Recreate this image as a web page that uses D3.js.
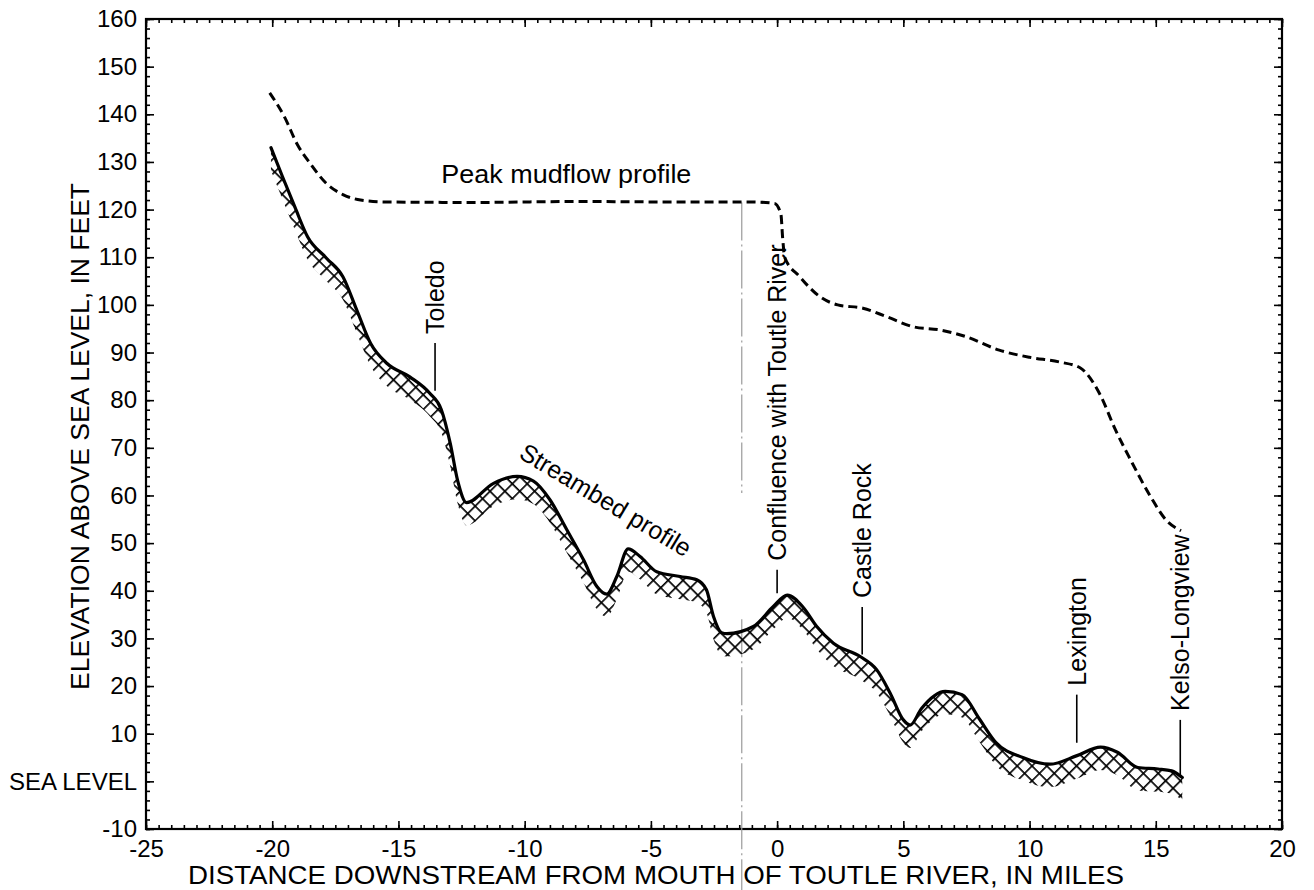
<!DOCTYPE html>
<html>
<head>
<meta charset="utf-8">
<script src="https://cdn.jsdelivr.net/npm/d3@7/dist/d3.min.js"></script>
<style>
  html, body { margin: 0; padding: 0; background: #fff; }
  svg { display: block; font-family: "Liberation Sans", Arial, Helvetica, sans-serif; }
</style>
</head>
<body>
<svg id="chart" width="1314" height="890"></svg>
<script>
// ---------- DATA ----------
// Streambed profile: [distance (mi), elevation (ft)]
const streambed = [
  [-20.05,133],[-19.6,127],[-19.1,120.5],[-18.6,114.3],[-17.85,109.8],[-17.2,105.9],
  [-16.65,98.9],[-16.1,91.9],[-15.45,87.7],[-14.55,84.9],[-13.75,81.4],[-13.3,78],
  [-12.95,71],[-12.65,63],[-12.3,58.5],[-11.25,62.5],[-10.3,64],[-9.65,63],[-9.0,59.1],
  [-8.33,52.8],[-7.67,46.5],[-7.14,40.9],[-6.75,39.3],[-6.35,43],[-5.9,48.8],[-5.43,47.2],
  [-4.77,44],[-3.84,43],[-3.18,42.3],[-2.8,40.2],[-2.52,34.6],[-2.2,31.2],[-1.99,31.0],
  [-0.94,32.5],[-0.15,36.7],[0.4,39.1],[1.04,36.5],[1.57,32.5],[2.23,29],[3.29,26.2],
  [3.95,23.4],[4.48,18.5],[5.0,12.9],[5.27,11.8],[5.72,15.3],[6.66,18.9],[7.33,18.2],
  [8.0,13.2],[8.66,8.2],[9.73,5.0],[10.8,3.6],[11.88,5.4],[12.81,7.2],[13.48,6.1],
  [14.29,2.9],[15.09,2.6],[15.63,2.2],[16.05,0.8]
];
// Peak mudflow profile: [distance (mi), elevation (ft)]
const mudflow = [
  [-20.1,144.5],[-19.5,139.3],[-19.0,133.6],[-18.5,129.7],[-17.84,125.4],[-17.18,123.1],
  [-16.5,122.0],[-15.5,121.6],[-12,121.5],[-8,121.7],[-4,121.6],[-1,121.6],[-0.1,121.3],
  [0.15,119],[0.22,114],[0.3,110],[0.9,105.9],[1.7,101.7],[2.4,100],[3.4,99.3],[4.35,97.5],
  [5.4,95.4],[6.5,94.7],[7.5,93.3],[8.8,90.5],[10,89],[11.2,88],[12,86.8],[12.8,81.1],
  [13.4,73.8],[14.0,67.5],[14.8,59.7],[15.4,54.9],[16.0,52.6]
];
// Place markers: name, distance, marker-line bottom/top elevation (ft)
const places = [
  {name: "Toledo", x: -13.55, lo: 82, hi: 92},
  {name: "Confluence with Toutle River", x: 0.0, lo: 39.5, hi: 44.4},
  {name: "Castle Rock", x: 3.37, lo: 26.6, hi: 36.6},
  {name: "Lexington", x: 11.87, lo: 8.1, hi: 18.2},
  {name: "Kelso-Longview", x: 15.97, lo: 0.9, hi: 12.9}
];
const confluenceLineX = -1.4;
const xTickValues = [-25,-20,-15,-10,-5,0,5,10,15,20];
const xTickLabels = ["-25","-20","-15","-10","-5","0","5","10","15","20"];
const yTickValues = [-10,0,10,20,30,40,50,60,70,80,90,100,110,120,130,140,150,160];
const yTickLabels = ["-10","SEA LEVEL","10","20","30","40","50","60","70","80","90","100","110","120","130","140","150","160"];
const xTitle = "DISTANCE DOWNSTREAM FROM MOUTH OF TOUTLE RIVER, IN MILES";
const yTitle = "ELEVATION ABOVE SEA LEVEL, IN FEET";

// ---------- LAYOUT ----------
const svg = d3.select("#chart");
const L = 146, R = 1282, T = 19, B = 829;
const x = d3.scaleLinear().domain([-25, 20]).range([L, R]);
const y = d3.scaleLinear().domain([-10, 160]).range([B, T]);
const FS = 24;

// hatch pattern
const defs = svg.append("defs");
const pat = defs.append("pattern").attr("id", "hatch")
  .attr("patternUnits", "userSpaceOnUse").attr("width", 10.5).attr("height", 10.5)
  .attr("patternTransform", "rotate(45)");
pat.append("path").attr("d", "M0,0.8H10.5M0.8,0V10.5").attr("stroke", "#000").attr("stroke-width", 1.7);

// axes ticks
const xMinor = d3.range(-25, 20.001, 0.5);
const yMinor = d3.range(-10, 160.001, 2);
function tickStyle(g) { g.select(".domain").remove(); g.selectAll(".tick line").attr("stroke", "#000").attr("stroke-width", 1.6); }

svg.append("g").attr("transform", `translate(0,${B})`)
  .call(d3.axisBottom(x).tickValues(xMinor).tickSize(-4).tickFormat(""))
  .call(tickStyle);
svg.append("g").attr("transform", `translate(0,${B})`)
  .call(d3.axisBottom(x).tickValues(xTickValues).tickSize(-8).tickPadding(11)
        .tickFormat((d, i) => xTickLabels[i]))
  .call(tickStyle)
  .call(g => g.selectAll("text").attr("font-size", FS).attr("fill", "#000").attr("font-family", null));
svg.append("g").attr("transform", `translate(0,${T})`)
  .call(d3.axisTop(x).tickValues(xMinor).tickSize(-4).tickFormat(""))
  .call(tickStyle);
svg.append("g").attr("transform", `translate(0,${T})`)
  .call(d3.axisTop(x).tickValues(xTickValues).tickSize(-8).tickFormat(""))
  .call(tickStyle);

svg.append("g").attr("transform", `translate(${L},0)`)
  .call(d3.axisLeft(y).tickValues(yMinor).tickSize(-4).tickFormat(""))
  .call(tickStyle);
svg.append("g").attr("transform", `translate(${L},0)`)
  .call(d3.axisLeft(y).tickValues(yTickValues).tickSize(-8).tickPadding(9)
        .tickFormat((d, i) => yTickLabels[i]))
  .call(tickStyle)
  .call(g => g.selectAll("text").attr("font-size", FS).attr("fill", "#000").attr("font-family", null));
svg.append("g").attr("transform", `translate(${R},0)`)
  .call(d3.axisRight(y).tickValues(yMinor).tickSize(-4).tickFormat(""))
  .call(tickStyle);
svg.append("g").attr("transform", `translate(${R},0)`)
  .call(d3.axisRight(y).tickValues(yTickValues).tickSize(-8).tickFormat(""))
  .call(tickStyle);

// frame
svg.append("rect").attr("x", L).attr("y", T).attr("width", R - L).attr("height", B - T)
  .attr("fill", "none").attr("stroke", "#000").attr("stroke-width", 2.2);

// confluence gray line
const gl = svg.append("g").attr("stroke", "#9a9a9a").attr("stroke-width", 1.2)
  .attr("stroke-dasharray", "38,4,2,4");
gl.append("line").attr("x1", x(confluenceLineX)).attr("x2", x(confluenceLineX))
  .attr("y1", y(121.5)).attr("y2", y(60.5));
gl.append("line").attr("x1", x(confluenceLineX)).attr("x2", x(confluenceLineX))
  .attr("y1", y(34)).attr("y2", 890);

// hatch band under streambed
const band = d3.area().curve(d3.curveMonotoneX)
  .x(d => x(d[0])).y1(d => y(d[1])).y0(d => y(d[1] - 4.8));
svg.append("path").datum(streambed).attr("d", band).attr("fill", "url(#hatch)");

// streambed line
const line = d3.line().curve(d3.curveMonotoneX).x(d => x(d[0])).y(d => y(d[1]));
svg.append("path").datum(streambed).attr("d", line)
  .attr("fill", "none").attr("stroke", "#000").attr("stroke-width", 3.2)
  .attr("stroke-linejoin", "round").attr("stroke-linecap", "round");

// mudflow dashed
svg.append("path").datum(mudflow).attr("d", line)
  .attr("fill", "none").attr("stroke", "#000").attr("stroke-width", 3)
  .attr("stroke-dasharray", "9,5");

// place markers
const pg = svg.append("g");
places.forEach(p => {
  pg.append("line").attr("x1", x(p.x)).attr("x2", x(p.x))
    .attr("y1", y(p.lo)).attr("y2", y(p.hi)).attr("stroke", "#000").attr("stroke-width", 1.6);
  pg.append("text")
    .attr("transform", `translate(${x(p.x)},${y(p.hi) - 9}) rotate(-90)`)
    .attr("dy", "0.36em").attr("font-size", 25).attr("text-anchor", "start")
    .text(p.name);
});

// series labels
svg.append("text").attr("x", x(-13.3)).attr("y", y(125.5))
  .attr("font-size", 25).attr("textLength", 250).attr("lengthAdjust", "spacingAndGlyphs")
  .text("Peak mudflow profile");
svg.append("text")
  .attr("transform", `translate(${x(-6.78)},${y(59.1)}) rotate(31)`)
  .attr("text-anchor", "middle").attr("dy", "0.36em").attr("font-size", 25)
  .attr("textLength", 195).attr("lengthAdjust", "spacingAndGlyphs")
  .text("Streambed profile");

// axis titles
svg.append("text").attr("x", 188).attr("y", 884)
  .attr("font-size", 25).attr("textLength", 936).attr("lengthAdjust", "spacingAndGlyphs")
  .text(xTitle);
svg.append("text").attr("transform", `translate(89,690) rotate(-90)`)
  .attr("font-size", 25).attr("textLength", 507).attr("lengthAdjust", "spacingAndGlyphs")
  .text(yTitle);
</script>
</body>
</html>
